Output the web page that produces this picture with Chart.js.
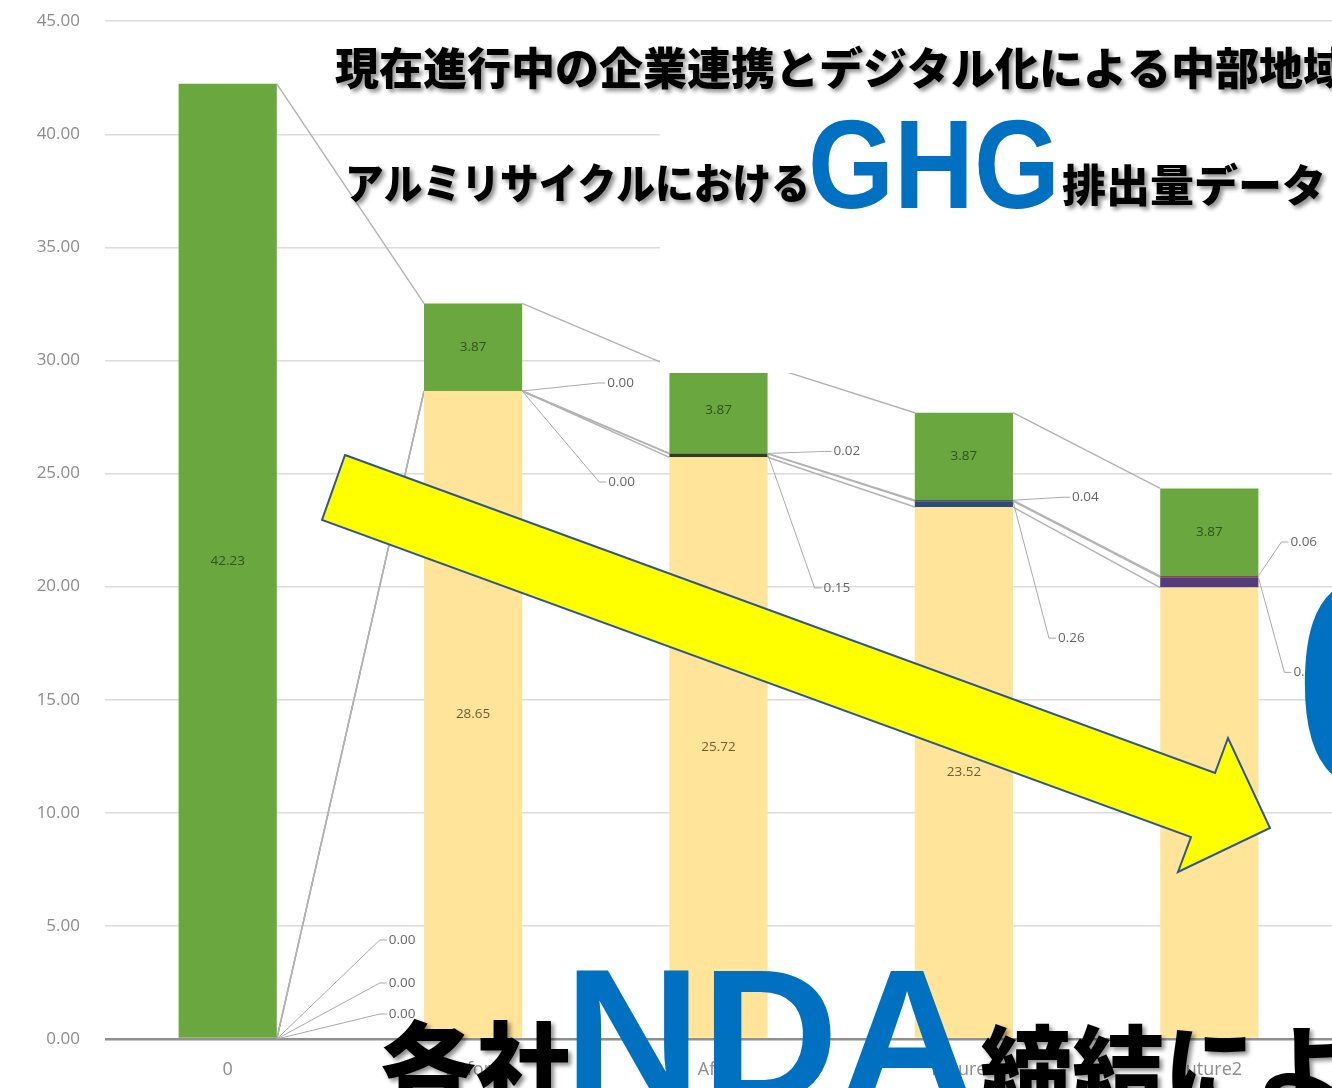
<!DOCTYPE html>
<html lang="ja">
<head>
  <meta charset="UTF-8">
  <title>アルミリサイクルにおけるGHG排出量データ</title>
  <script src="https://cdn.jsdelivr.net/npm/chart.js"></script>
  <style>
    html, body { margin: 0; padding: 0; background: #fff; overflow: hidden; }
    #wrap { width: 1332px; height: 1088px; overflow: hidden; }
    #ghgChart { display: block; margin-top: -14px; }
  </style>
</head>
<body>
  <div id="wrap"><canvas id="ghgChart" width="1332" height="1102"></canvas></div>
  <script>
    // キャンバスを上へずらした量（px）
    const SHIFT = 14;

    // 区分
    const categories = ['0', 'Before', 'After', 'Future1', 'Future2'];

    // 各工程の排出量（下から積み上げ）
    const baseValues   = [0, 28.65, 25.72, 23.52, 19.96];
    const smallAValues = [0, 0.00, 0.15, 0.26, 0.45];
    const smallBValues = [0, 0.00, 0.02, 0.04, 0.06];
    const greenValues  = [42.23, 3.87, 3.87, 3.87, 3.87];

    // Y軸
    const yMin = 0, yMax = 45, yStep = 5;

    // 吹き出しラベルの位置（棒の右上角からのずれ, px）
    const baseCallout   = [[103, -25], null, null, null, null];
    const smallACallout = [[103, -56], [77, 91], [47, 134], [36, 137], [26, 95]];
    const smallBCallout = [[103, -99], [76, -8], [57, -2], [50, -3], [23, -34]];

    // 系列線
    const seriesLines = {
      id: 'seriesLines',
      beforeDatasetsDraw(chart) {
        const ctx = chart.ctx;
        ctx.save();
        ctx.strokeStyle = '#b2b2b2';
        ctx.lineWidth = 1.4;
        chart.data.datasets.forEach((ds, di) => {
          const bars = chart.getDatasetMeta(di).data;
          for (let i = 0; i < bars.length - 1; i++) {
            const a = bars[i], b = bars[i + 1];
            ctx.beginPath();
            ctx.moveTo(a.x + a.width / 2, a.y);
            ctx.lineTo(b.x - b.width / 2, b.y);
            ctx.stroke();
          }
        });
        ctx.restore();
      }
    };

    // データラベル
    const valueLabels = {
      id: 'valueLabels',
      afterDatasetsDraw(chart) {
        const ctx = chart.ctx;
        ctx.save();
        ctx.font = '13.5px "Open Sans"';
        ctx.textBaseline = 'middle';
        chart.data.datasets.forEach((ds, di) => {
          const bars = chart.getDatasetMeta(di).data;
          bars.forEach((bar, i) => {
            const v = ds.data[i];
            const off = ds.callout ? ds.callout[i] : null;
            if (off) {
              const ax = bar.x + bar.width / 2, ay = bar.y;
              const ex = ax + off[0], ey = ay + off[1];
              ctx.strokeStyle = '#a9a9a9';
              ctx.lineWidth = 1;
              ctx.beginPath();
              ctx.moveTo(ax, ay);
              ctx.lineTo(ex, ey);
              ctx.lineTo(ex + 7, ey);
              ctx.stroke();
              ctx.fillStyle = '#666';
              ctx.textAlign = 'left';
              ctx.fillText(v.toFixed(2), ex + 9, ey);
            } else if (v > 1) {
              ctx.fillStyle = ds.labelColor;
              ctx.textAlign = 'center';
              ctx.fillText(v.toFixed(2), bar.x, (bar.y + bar.base) / 2);
            }
          });
        });
        ctx.restore();
      }
    };

    // スライド上の文字と矢印（ページ座標で描く）
    const overlay = {
      id: 'overlay',
      afterDraw(chart) {
        const ctx = chart.ctx;
        ctx.save();
        ctx.translate(0, SHIFT);

        // タイトル用の白い枠
        ctx.fillStyle = '#fff';
        ctx.fillRect(660, 28, 700, 345);

        // 黄色い矢印
        ctx.beginPath();
        ctx.moveTo(345, 455);
        ctx.lineTo(1215, 773);
        ctx.lineTo(1228, 738);
        ctx.lineTo(1270, 828);
        ctx.lineTo(1178, 872);
        ctx.lineTo(1191, 837);
        ctx.lineTo(322, 520);
        ctx.closePath();
        ctx.fillStyle = '#ffff00';
        ctx.fill();
        ctx.strokeStyle = '#2f5597';
        ctx.lineWidth = 2;
        ctx.stroke();

        const shadowOn = () => {
          ctx.shadowColor = 'rgba(0,0,0,0.45)';
          ctx.shadowOffsetX = 3;
          ctx.shadowOffsetY = 3;
          ctx.shadowBlur = 4;
        };
        const shadowOff = () => {
          ctx.shadowColor = 'transparent';
          ctx.shadowOffsetX = 0;
          ctx.shadowOffsetY = 0;
          ctx.shadowBlur = 0;
        };

        ctx.textAlign = 'left';
        ctx.textBaseline = 'middle';
        ctx.fillStyle = '#000';
        shadowOn();
        ctx.font = '900 44px "Noto Sans CJK JP"';
        ctx.fillText('現在進行中の企業連携とデジタル化による中部地域', 335, 68);
        ctx.font = '900 42px "Noto Sans CJK JP"';
        ctx.fillText('アルミリサイクルにおける', 345, 183, 465);
        ctx.font = '900 44px "Noto Sans CJK JP"';
        ctx.fillText('排出量データ', 1062, 185, 264);

        ctx.font = '900 96px "Noto Sans CJK JP"';
        ctx.fillText('各社', 380, 1066);
        ctx.font = '900 92px "Noto Sans CJK JP"';
        ctx.fillText('締結による', 980, 1068);
        shadowOff();

        ctx.fillStyle = '#0070c0';
        ctx.textBaseline = 'alphabetic';
        ctx.font = 'bold 126px "Liberation Sans"';
        ctx.fillText('GHG', 808, 208, 252);
        ctx.font = 'bold 190px "Liberation Sans"';
        ctx.fillText('NDA', 564, 1101);
        ctx.font = 'bold 300px "Liberation Sans"';
        ctx.fillText('0', 1293, 787);

        ctx.restore();
      }
    };

    const ctx = document.getElementById('ghgChart').getContext('2d');
    new Chart(ctx, {
      type: 'bar',
      data: {
        labels: categories,
        datasets: [
          { label: 'base', data: baseValues, backgroundColor: '#ffe499',
            labelColor: 'rgba(70,60,30,0.8)', callout: baseCallout },
          { label: 'a', data: smallAValues,
            backgroundColor: ['#2b3d1f', '#2b3d1f', '#2d4020', '#2e4b7a', '#523c7c'],
            callout: smallACallout },
          { label: 'b', data: smallBValues,
            backgroundColor: ['#263a1e', '#263a1e', '#263a1e', '#1f2d3a', '#8a4a2c'],
            callout: smallBCallout },
          { label: 'green', data: greenValues, backgroundColor: '#6aa73f',
            labelColor: 'rgba(35,60,20,0.8)' }
        ]
      },
      options: {
        responsive: false,
        animation: false,
        devicePixelRatio: 1,
        layout: { padding: { top: 8, right: 0, bottom: 0, left: 0 } },
        datasets: { bar: { categoryPercentage: 0.4, barPercentage: 1 } },
        plugins: { legend: { display: false }, tooltip: { enabled: false } },
        scales: {
          x: {
            stacked: true,
            grid: { display: false, drawTicks: false },
            border: { display: false },
            ticks: { color: '#8c8c8c', font: { family: 'Open Sans', size: 18 }, padding: 20 },
            afterFit(scale) { scale.height = 49; }
          },
          y: {
            stacked: true,
            min: yMin,
            max: yMax,
            border: { display: false },
            grid: {
              drawTicks: false,
              color: c => c.tick.value === 0 ? '#8f8f8f' : '#dcdcdc',
              lineWidth: c => c.tick.value === 0 ? 2.5 : 1.5
            },
            ticks: {
              stepSize: yStep,
              color: '#8c8c8c',
              padding: 25,
              font: { family: 'Open Sans', size: 17 },
              callback: v => v.toFixed(2)
            },
            afterFit(scale) { scale.width = 105; }
          }
        }
      },
      plugins: [seriesLines, valueLabels, overlay]
    });
  </script>
</body>
</html>
